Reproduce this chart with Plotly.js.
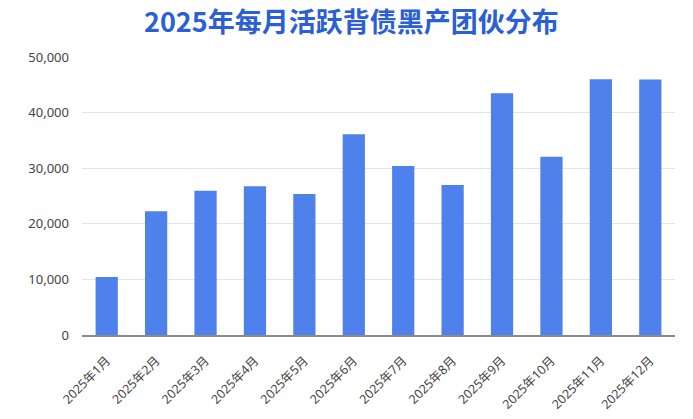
<!DOCTYPE html>
<html>
<head>
<meta charset="utf-8">
<script src="https://cdn.plot.ly/plotly-3.0.1.min.js"></script>
<style>html,body{margin:0;padding:0;background:#fff;}#chart{width:693px;height:419px;}</style>
</head>
<body>
<div id="chart"></div>
<script>
const months = ["2025年1月","2025年2月","2025年3月","2025年4月","2025年5月","2025年6月","2025年7月","2025年8月","2025年9月","2025年10月","2025年11月","2025年12月"];
const activeGroups = [10450, 22250, 25950, 26750, 25350, 36100, 30400, 27000, 43500, 32050, 46000, 45950];
const yTicks = [0, 10000, 20000, 30000, 40000, 50000];
const yTickText = ["0", "10,000", "20,000", "30,000", "40,000", "50,000"];
const chartTitle = "2025年每月活跃背债黑产团伙分布";

const trace = {
  type: "bar",
  x: months,
  y: activeGroups,
  marker: {color: "#4f81ec"},
  hoverinfo: "x+y"
};

const layout = {
  width: 693,
  height: 419,
  margin: {l: 82, r: 18, t: 57, b: 84},
  paper_bgcolor: "#ffffff",
  plot_bgcolor: "#ffffff",
  bargap: 0.55,
  showlegend: false,
  font: {family: "Noto Sans, Noto Sans CJK SC, sans-serif", color: "#444"},
  title: {
    text: "<b>" + chartTitle + "</b>",
    x: 0.507, xref: "container", xanchor: "center",
    y: 1 - 23 / 419, yref: "container", yanchor: "middle",
    font: {family: "Noto Sans CJK SC, sans-serif", size: 27, color: "#2b5fd6"}
  },
  xaxis: {
    type: "category",
    tickangle: -45,
    tickfont: {size: 12.5, color: "#444"},
    showgrid: false,
    showline: true,
    linecolor: "#8a8a8a",
    linewidth: 1.5,
    ticks: "",
    ticklabelstandoff: 12
  },
  yaxis: {
    range: [0, 50000],
    tickvals: yTicks,
    ticktext: yTickText,
    tickfont: {size: 13, color: "#444"},
    showgrid: true,
    gridcolor: "#e4e4e4",
    gridwidth: 1,
    zeroline: false,
    showline: false,
    ticks: "",
    ticklabelstandoff: 12
  }
};

Plotly.newPlot("chart", [trace], layout, {displayModeBar: false, staticPlot: true});
</script>
</body>
</html>
